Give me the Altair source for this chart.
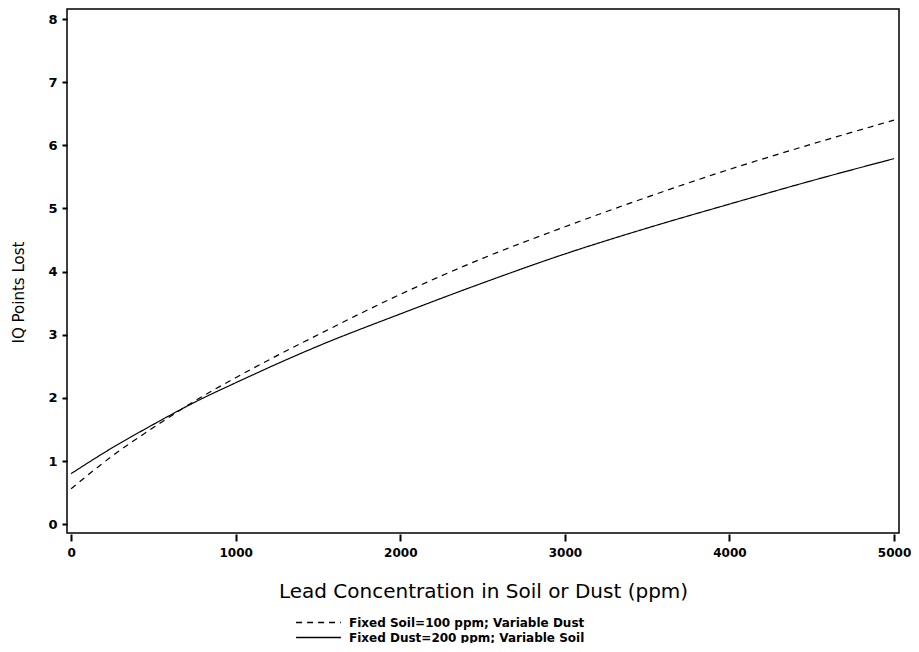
import altair as alt
import pandas as pd

x_vals = [0, 250, 500, 750, 1000, 1500, 2000, 2500, 3000, 3500, 4000, 4500, 5000]
dashed_vals = [0.56, 1.08, 1.53, 1.95, 2.32, 3.0, 3.64, 4.21, 4.71, 5.18, 5.62, 6.02, 6.40]
solid_vals = [0.80, 1.21, 1.58, 1.93, 2.24, 2.82, 3.33, 3.82, 4.28, 4.69, 5.07, 5.44, 5.79]
series_names = ["Fixed Soil=100 ppm; Variable Dust", "Fixed Dust=200 ppm; Variable Soil"]

rows = []
for xv, d, s in zip(x_vals, dashed_vals, solid_vals):
    rows.append({"x": xv, "y": d, "series": series_names[0]})
    rows.append({"x": xv, "y": s, "series": series_names[1]})
df = pd.DataFrame(rows)

FONT = "DejaVu Sans"

chart = alt.Chart(df).mark_line(color="black", strokeWidth=1.2, interpolate="monotone").encode(
    x=alt.X("x:Q", scale=alt.Scale(domain=[-25, 5030], nice=False, zero=False),
            axis=alt.Axis(title="Lead Concentration in Soil or Dust (ppm)", values=[0, 1000, 2000, 3000, 4000, 5000],
                          format="d",
                          domain=False, offset=1, tickSize=7, tickColor="black", tickWidth=2,
                          labelFont=FONT, labelFontSize=12, labelFontWeight="bold", labelColor="black",
                          labelPadding=6,
                          titleFont=FONT, titleFontSize=20, titleFontWeight="normal", titleColor="black",
                          titlePadding=23, grid=False, labelFlush=False)),
    y=alt.Y("y:Q", scale=alt.Scale(domain=[-0.14, 8.16], nice=False, zero=False),
            axis=alt.Axis(title="IQ Points Lost", values=list(range(0, 9)), format="d",
                          domain=False, tickSize=5, tickColor="black", tickWidth=2,
                          labelFont=FONT, labelFontSize=13, labelFontWeight="bold", labelColor="black",
                          labelPadding=5,
                          titleFont=FONT, titleFontSize=15, titleFontWeight="normal", titleColor="black",
                          titleX=-49, titleY=283, titleAlign="center", titleBaseline="middle",
                          grid=False, labelFlush=False)),
    strokeDash=alt.StrokeDash("series:N",
                              scale=alt.Scale(domain=series_names, range=[[6, 5], [1, 0]]),
                              sort=series_names,
                              legend=alt.Legend(title=None, orient="none", legendX=244, legendY=606,
                                                symbolType="M-3.45,0H3.45", symbolSize=169,
                                                symbolStrokeWidth=1.4, symbolFillColor="transparent",
                                                symbolStrokeColor="black", labelLimit=0,
                                                labelFont=FONT, labelFontSize=12, labelFontWeight="bold",
                                                labelColor="black", rowPadding=1, labelOffset=23)),
    detail="series:N",
).properties(
    width=832, height=524,
    autosize=alt.AutoSizeParams(type="none"),
    padding={"left": 59, "top": 1, "right": 12, "bottom": 110},
).configure(background="white").configure_view(stroke="black", strokeWidth=1.5)

chart.save("out.html", embed_options={"renderer": "svg", "actions": False})
